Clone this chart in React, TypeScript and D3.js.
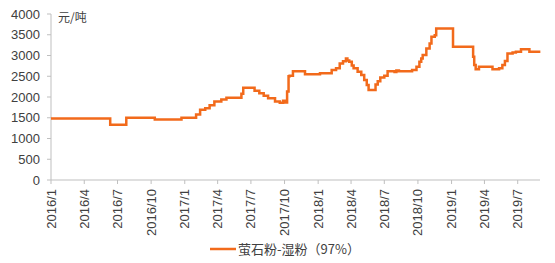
import React from "react";
import * as d3 from "d3";

const dates: string[] = [
  "2016-01-01","2016-06-11","2016-07-25","2016-10-11","2016-12-23","2017-01-25","2017-02-01","2017-02-12",
  "2017-02-26","2017-03-10","2017-03-23","2017-04-11","2017-04-25","2017-06-05","2017-06-10","2017-07-11",
  "2017-07-24","2017-08-05","2017-08-17","2017-09-05","2017-09-18","2017-09-27","2017-10-03","2017-10-08",
  "2017-10-12","2017-10-15","2017-10-24","2017-11-26","2018-01-06","2018-02-07","2018-02-19","2018-03-01",
  "2018-03-10","2018-03-18","2018-03-22","2018-03-27","2018-04-03","2018-04-08","2018-04-19","2018-04-29",
  "2018-05-07","2018-05-14","2018-05-19","2018-06-07","2018-06-13","2018-06-20","2018-07-01","2018-07-10",
  "2018-07-29","2018-08-03","2018-08-10","2018-09-15","2018-09-27","2018-10-05","2018-10-10","2018-10-14",
  "2018-10-24","2018-11-02","2018-11-07","2018-11-16","2018-11-20","2019-01-05","2019-03-01","2019-03-04",
  "2019-03-08","2019-03-17","2019-04-19","2019-04-23","2019-05-11","2019-05-20","2019-05-27","2019-06-03",
  "2019-06-17","2019-06-26","2019-07-10","2019-07-23","2019-08-02","2019-09-01",
];
const values: number[] = [
  1480,1330,1500,1460,1500,1500,1580,1690,
  1730,1800,1890,1940,1980,2080,2220,2150,
  2090,2030,1970,1890,1860,1910,1870,2130,
  2500,2510,2620,2550,2570,2650,2690,2810,
  2860,2930,2880,2850,2760,2690,2610,2530,
  2410,2290,2170,2300,2380,2470,2510,2620,
  2600,2640,2620,2650,2730,2850,2930,3010,
  3170,3290,3450,3490,3650,3210,2970,2770,
  2670,2730,2730,2670,2690,2770,2870,3050,
  3070,3090,3150,3150,3090,3090,
];
const yTicks: number[] = [0, 500, 1000, 1500, 2000, 2500, 3000, 3500, 4000];
const seriesName = "萤石粉-湿粉（97%）";
const unitLabel = "元/吨";

export default function App() {
  const W = 555, H = 263;
  const parse = d3.timeParse("%Y-%m-%d");
  const data = dates.map((d, i) => ({ date: parse(d) as Date, value: values[i] }));
  const x = d3.scaleTime()
    .domain([new Date(2016, 0, 1), new Date(2019, 7, 31)])
    .range([51, 540]);
  const y = d3.scaleLinear().domain([0, 4000]).range([180, 14]);
  const xTicks = d3.timeMonth.every(3)!.range(new Date(2016, 0, 1), new Date(2019, 7, 1));
  const fmt = d3.timeFormat("%Y/%-m");
  const line = d3.line<{ date: Date; value: number }>()
    .x(d => x(d.date))
    .y(d => y(d.value))
    .curve(d3.curveStepAfter);
  const font = "'Liberation Sans', Arial, sans-serif";
  const axisColor = "#BFBFBF";
  const textColor = "#404040";
  const color = "#F26A1B";
  return (
    <svg width={W} height={H} style={{ position: "absolute", left: 0, top: 0, background: "#fff" }}
      fontFamily={font}>
      {/* y axis */}
      <line x1={51} x2={51} y1={y(4000)} y2={180} stroke={axisColor} strokeWidth={1} />
      {yTicks.map(t => (
        <g key={t}>
          <line x1={47} x2={51} y1={y(t)} y2={y(t)} stroke={axisColor} />
          <text x={40} y={y(t)} dy="0.35em" textAnchor="end" fontSize={13} fill={textColor}>{t}</text>
        </g>
      ))}
      {/* x axis */}
      <line x1={51} x2={540} y1={180} y2={180} stroke={axisColor} />
      {xTicks.map(t => (
        <g key={t.getTime()}>
          <line x1={x(t)} x2={x(t)} y1={180} y2={184} stroke={axisColor} />
          <text transform={`translate(${x(t)},189) rotate(-90)`} textAnchor="end" dy="0.35em"
            fontSize={13} fill={textColor}>{fmt(t)}</text>
        </g>
      ))}
      <text x={58} y={22} fontSize={12} fill={textColor}
        fontFamily="'Noto Sans CJK SC', sans-serif">{unitLabel}</text>
      <path d={line(data) || ""} fill="none" stroke={color} strokeWidth={2.5} strokeLinejoin="miter" />
      {/* legend */}
      <line x1={210} x2={236} y1={249} y2={249} stroke={color} strokeWidth={2.5} />
      <text x={238} y={249} dy="0.35em" fontSize={13} fill={textColor}
        fontFamily="'Noto Sans CJK SC', sans-serif">{seriesName}</text>
    </svg>
  );
}
